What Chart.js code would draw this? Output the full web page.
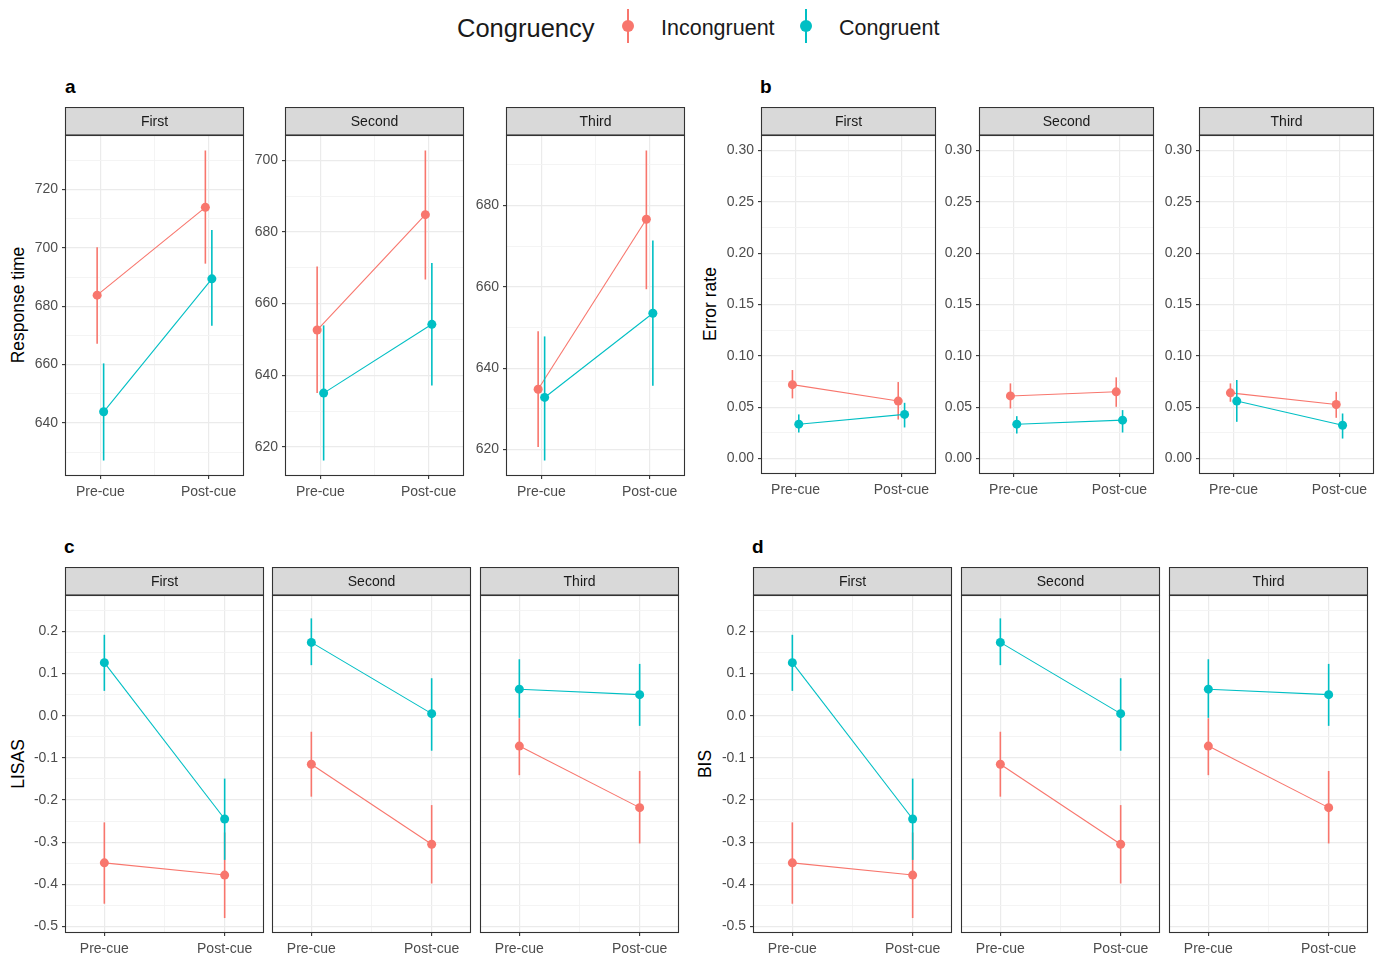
<!DOCTYPE html>
<html>
<head>
<meta charset="utf-8">
<script src="https://cdn.jsdelivr.net/npm/chart.js@4.4.1/dist/chart.umd.min.js"></script>
<style>
  html, body { margin: 0; padding: 0; background: #fff; }
  body { width: 1379px; height: 957px; position: relative; overflow: hidden;
         font-family: "Liberation Sans", Arial, sans-serif; }
  canvas { position: absolute; }
  .txt { position: absolute; white-space: nowrap; line-height: 1; }
  .ytitle { position: absolute; white-space: nowrap; font-size: 17.5px; color: #000;
            transform: translate(-50%, -50%) rotate(-90deg); line-height: 1; }
  .tag { position: absolute; font-size: 19px; font-weight: bold; color: #000; line-height: 1; }
  .key { position: absolute; width: 14px; height: 34px; }
  .key .bar { position: absolute; left: 6px; top: 0; width: 2px; height: 34px; }
  .key .dot { position: absolute; left: 1px; top: 11px; width: 12px; height: 12px; border-radius: 50%; }
</style>
</head>
<body>

<div class="txt" style="left:457px;top:16px;font-size:25.5px;color:#1a1a1a;">Congruency</div>
<div class="key" style="left:621px;top:9px;"><div class="bar" style="background:#F8766D"></div><div class="dot" style="background:#F8766D"></div></div>
<div class="txt" style="left:661px;top:18px;font-size:21.5px;color:#1a1a1a;">Incongruent</div>
<div class="key" style="left:799px;top:9px;"><div class="bar" style="background:#00BFC4"></div><div class="dot" style="background:#00BFC4"></div></div>
<div class="txt" style="left:839px;top:18px;font-size:21.5px;color:#1a1a1a;">Congruent</div>

<div class="tag" style="left:65px;top:77px;">a</div>
<div class="tag" style="left:760px;top:77px;">b</div>
<div class="tag" style="left:64px;top:537px;">c</div>
<div class="tag" style="left:752px;top:537px;">d</div>

<div class="ytitle" style="left:19px;top:305px;">Response time</div>
<div class="ytitle" style="left:711px;top:304px;">Error rate</div>
<div class="ytitle" style="left:19px;top:764px;">LISAS</div>
<div class="ytitle" style="left:706px;top:764px;">BIS</div>

<script>
// ---- data: one row per block (First, Second, Third), columns [Pre-cue, Post-cue]
const cues = ['Pre-cue', 'Post-cue'];
const blocks = ['First', 'Second', 'Third'];
const groups = ['Incongruent', 'Congruent'];

// Response time
const rtIncMean = [[683.8, 713.9], [652.6, 684.8], [634.8, 676.6]];
const rtIncLow  = [[667.1, 694.6], [635.0, 666.7], [620.6, 659.4]];
const rtIncHigh = [[700.2, 733.4], [670.3, 702.7], [649.1, 693.5]];
const rtConMean = [[643.8, 689.4], [635.0, 654.2], [632.8, 653.5]];
const rtConLow  = [[627.1, 673.3], [616.2, 637.1], [617.3, 635.7]];
const rtConHigh = [[660.4, 706.1], [653.9, 671.3], [647.8, 671.4]];

// Error rate
const erIncMean = [[0.0720, 0.0560], [0.0610, 0.0650], [0.0640, 0.0527]];
const erIncLow  = [[0.0586, 0.0380], [0.0488, 0.0504], [0.0553, 0.0397]];
const erIncHigh = [[0.0862, 0.0745], [0.0732, 0.0791], [0.0732, 0.0650]];
const erConMean = [[0.0335, 0.0430], [0.0335, 0.0374], [0.0560, 0.0325]];
const erConLow  = [[0.0254, 0.0303], [0.0244, 0.0254], [0.0358, 0.0195]];
const erConHigh = [[0.0430, 0.0543], [0.0413, 0.0472], [0.0765, 0.0439]];

// LISAS
const lisasIncMean = [[-0.349, -0.378], [-0.115, -0.305], [-0.072, -0.218]];
const lisasIncLow  = [[-0.446, -0.480], [-0.192, -0.398], [-0.141, -0.303]];
const lisasIncHigh = [[-0.253, -0.277], [-0.038, -0.212], [-0.006, -0.131]];
const lisasConMean = [[0.126, -0.245], [0.174, 0.005], [0.063, 0.050]];
const lisasConLow  = [[0.059, -0.342], [0.120, -0.083], [-0.005, -0.024]];
const lisasConHigh = [[0.192, -0.149], [0.231, 0.089], [0.134, 0.123]];

// BIS
const bisIncMean = [[-0.349, -0.378], [-0.115, -0.305], [-0.072, -0.218]];
const bisIncLow  = [[-0.446, -0.480], [-0.192, -0.398], [-0.141, -0.303]];
const bisIncHigh = [[-0.253, -0.277], [-0.038, -0.212], [-0.006, -0.131]];
const bisConMean = [[0.126, -0.245], [0.174, 0.005], [0.063, 0.050]];
const bisConLow  = [[0.059, -0.342], [0.120, -0.083], [-0.005, -0.024]];
const bisConHigh = [[0.192, -0.149], [0.231, 0.089], [0.134, 0.123]];

// ---- styling
const COLORS = ['#F8766D', '#00BFC4'];
const FONT = '"Liberation Sans", Arial, sans-serif';
const AX_W = 50;      // room for y tick labels left of each panel
const X_AX_H = 32;    // room for x tick labels below each panel
const STRIP_H = 28;   // facet strip height
const X_PAD = 0.327;  // x range padding around the two cue positions

const measures = [
  { key: 'a', top: 106.5, bottom: 475.5, lefts: [65, 285, 506], width: 179,
    inc: [rtIncMean, rtIncLow, rtIncHigh], con: [rtConMean, rtConLow, rtConHigh],
    major: 20, minor: 10, fmt: v => String(Math.round(v)), dodge: 0.03,
    limits: null, sharedAxis: false },
  { key: 'b', top: 107, bottom: 473.7, lefts: [760.7, 979.3, 1199.3], width: 174.5,
    inc: [erIncMean, erIncLow, erIncHigh], con: [erConMean, erConLow, erConHigh],
    major: 0.05, minor: 0.025, fmt: v => v.toFixed(2), dodge: 0.03,
    limits: [0, 0.3], sharedAxis: false },
  { key: 'c', top: 567, bottom: 932.7, lefts: [64.7, 272.3, 480], width: 199,
    inc: [lisasIncMean, lisasIncLow, lisasIncHigh], con: [lisasConMean, lisasConLow, lisasConHigh],
    major: 0.1, minor: 0.05, fmt: v => v.toFixed(1), dodge: 0,
    limits: [-0.479, 0.25], sharedAxis: true },
  { key: 'd', top: 567, bottom: 932.7, lefts: [752.7, 960.7, 1168.7], width: 199.3,
    inc: [bisIncMean, bisIncLow, bisIncHigh], con: [bisConMean, bisConLow, bisConHigh],
    major: 0.1, minor: 0.05, fmt: v => v.toFixed(1), dodge: 0,
    limits: [-0.479, 0.25], sharedAxis: true }
];

// facet strip on top, panel border over everything
const panelDecor = {
  id: 'panelDecor',
  beforeDraw(chart, args, opts) {
    const { ctx, chartArea: a } = chart;
    ctx.save();
    ctx.fillStyle = '#d9d9d9';
    ctx.fillRect(a.left, 0.5, a.right - a.left, a.top - 0.5);
    ctx.strokeStyle = '#333333';
    ctx.lineWidth = 1.1;
    ctx.strokeRect(a.left + 0.5, 0.5, a.right - a.left - 1, a.top - 0.5);
    ctx.fillStyle = '#1a1a1a';
    ctx.font = '14px ' + FONT;
    ctx.textAlign = 'center';
    ctx.textBaseline = 'middle';
    ctx.fillText(opts.title, (a.left + a.right) / 2, a.top / 2 + 1);
    ctx.restore();
  },
  afterDraw(chart) {
    const { ctx, chartArea: a } = chart;
    ctx.save();
    ctx.strokeStyle = '#333333';
    ctx.lineWidth = 1.1;
    ctx.strokeRect(a.left + 0.5, a.top + 0.5, a.right - a.left - 1, a.bottom - a.top - 1);
    ctx.restore();
  }
};

// vertical interval of each point, drawn just before its own series
const intervals = {
  id: 'intervals',
  beforeDatasetDraw(chart, args) {
    const ds = chart.data.datasets[args.index];
    const xs = chart.scales.x, ys = chart.scales.y;
    const ctx = chart.ctx;
    ctx.save();
    ctx.strokeStyle = ds.borderColor;
    ctx.lineWidth = 1.6;
    ds.data.forEach((p, i) => {
      const x = xs.getPixelForValue(p.x);
      ctx.beginPath();
      ctx.moveTo(x, ys.getPixelForValue(ds.low[i]));
      ctx.lineTo(x, ys.getPixelForValue(ds.high[i]));
      ctx.stroke();
    });
    ctx.restore();
  }
};

function near(v, step) { return Math.abs(v / step - Math.round(v / step)) < 1e-6; }

function yRange(m, b) {
  let lo, hi;
  if (m.limits) { [lo, hi] = m.limits; }
  else {
    lo = Math.min(...m.inc[1][b], ...m.con[1][b]);
    hi = Math.max(...m.inc[2][b], ...m.con[2][b]);
  }
  const pad = (hi - lo) * 0.05;
  return [lo - pad, hi + pad];
}

function makePanel(m, b) {
  const cvs = document.createElement('canvas');
  const left = Math.round(m.lefts[b]);
  const top = Math.round(m.top);
  const plotH = Math.round(m.bottom) - top - STRIP_H;
  const W = AX_W + Math.round(m.width) + 2;
  const H = STRIP_H + plotH + X_AX_H;
  cvs.width = W; cvs.height = H;
  cvs.style.left = (left - AX_W) + 'px';
  cvs.style.top = top + 'px';
  cvs.style.width = W + 'px'; cvs.style.height = H + 'px';
  document.body.appendChild(cvs);

  const showY = !m.sharedAxis || b === 0;
  const [yMin, yMax] = yRange(m, b);

  const series = [m.inc, m.con].map((s, g) => ({
    label: groups[g],
    data: cues.map((c, i) => ({ x: i + 1 + (g === 0 ? -m.dodge : m.dodge), y: s[0][b][i] })),
    low: s[1][b],
    high: s[2][b],
    borderColor: COLORS[g],
    backgroundColor: COLORS[g],
    borderWidth: 1.1,
    pointRadius: 4.5,
    pointBorderWidth: 0,
    pointHoverRadius: 4.5,
    tension: 0,
    order: 2 - g
  }));

  const gridColor = ctx => (ctx.tick && ctx.tick.major) ? '#ebebeb' : '#f3f3f3';
  const gridWidth = ctx => (ctx.tick && ctx.tick.major) ? 1.2 : 0.9;
  const noPad = s => { s.paddingLeft = 0; s.paddingRight = 0; s.paddingTop = 0; s.paddingBottom = 0; };

  new Chart(cvs, {
    type: 'line',
    data: { datasets: series },
    options: {
      responsive: false,
      animation: false,
      devicePixelRatio: 1,
      layout: { autoPadding: false, padding: { top: STRIP_H, right: 2, left: 0, bottom: 0 } },
      plugins: {
        legend: { display: false },
        tooltip: { enabled: false },
        panelDecor: { title: blocks[b] }
      },
      scales: {
        x: {
          type: 'linear',
          min: 1 - X_PAD, max: 2 + X_PAD,
          afterBuildTicks: s => { s.ticks = [1, 1.5, 2].map(v => ({ value: v, major: Number.isInteger(v) })); },
          afterFit: s => { s.height = X_AX_H; noPad(s); },
          border: { display: false },
          grid: { color: gridColor, lineWidth: gridWidth, tickLength: 3,
                  tickColor: ctx => (ctx.tick && ctx.tick.major) ? '#333333' : 'rgba(0,0,0,0)', tickWidth: 1.1 },
          ticks: {
            autoSkip: false, maxRotation: 0, minRotation: 0, padding: 5,
            color: '#4d4d4d', font: { family: FONT, size: 14 },
            callback: v => Number.isInteger(v) ? cues[v - 1] : ''
          }
        },
        y: {
          type: 'linear',
          min: yMin, max: yMax,
          afterBuildTicks: s => {
            const t = [];
            for (let v = Math.ceil(yMin / m.minor - 1e-9) * m.minor; v <= yMax + 1e-9; v += m.minor) {
              const val = Number((Math.round(v / m.minor) * m.minor).toFixed(6));
              t.push({ value: val, major: near(val, m.major) });
            }
            s.ticks = t;
          },
          afterFit: s => { s.width = AX_W; noPad(s); },
          border: { display: false },
          grid: { color: gridColor, lineWidth: gridWidth, tickLength: 3,
                  tickColor: ctx => (showY && ctx.tick && ctx.tick.major) ? '#333333' : 'rgba(0,0,0,0)', tickWidth: 1.1 },
          ticks: {
            autoSkip: false, padding: 4,
            color: '#4d4d4d', font: { family: FONT, size: 14 },
            callback: v => (showY && near(v, m.major)) ? m.fmt(v) : ''
          }
        }
      }
    },
    plugins: [panelDecor, intervals]
  });
}

measures.forEach(m => blocks.forEach((_, b) => makePanel(m, b)));
</script>
</body>
</html>
